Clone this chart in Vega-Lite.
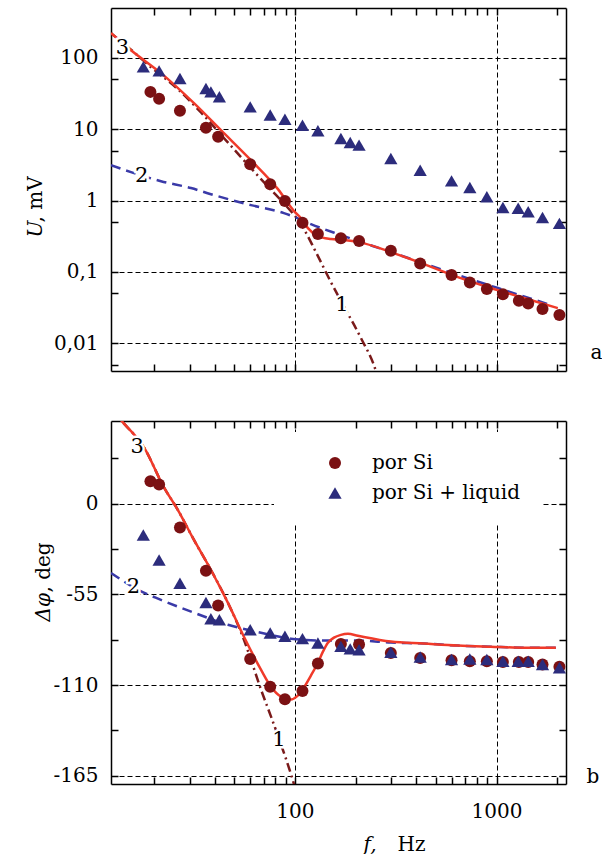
{
  "$schema": "https://vega.github.io/schema/vega-lite/v6.json",
  "background": "white",
  "padding": {"left": 25, "top": 7, "right": 0, "bottom": 0},
  "autosize": {"type": "pad"},
  "config": {
    "view": {"stroke": null},
    "font": "DejaVu Serif",
    "axis": {"labelFont": "DejaVu Serif", "labelFontSize": 20, "labelColor": "black", "titleFont": "DejaVu Serif", "titleFontSize": 20, "titleFontWeight": "normal", "titleColor": "black", "domainColor": "black", "domainWidth": 1.5, "tickColor": "black", "tickWidth": 1.5, "tickSize": -7, "labelOverlap": false, "labelFlush": false, "labelBound": false, "grid": false},
    "legend": {"labelFont": "DejaVu Serif"},
    "text": {"font": "DejaVu Serif"}
  },
  "datasets": {
    "pts": [
      {"f": 19.2, "U": 33.4, "phi": 13.5, "s": "por Si"},
      {"f": 21.2, "U": 26.7, "phi": 11.5, "s": "por Si"},
      {"f": 26.9, "U": 18.1, "phi": -14.5, "s": "por Si"},
      {"f": 36.2, "U": 10.5, "phi": -40.7, "s": "por Si"},
      {"f": 41.6, "U": 7.83, "phi": -61.8, "s": "por Si"},
      {"f": 60.0, "U": 3.24, "phi": -94.2, "s": "por Si"},
      {"f": 75.4, "U": 1.69, "phi": -111.1, "s": "por Si"},
      {"f": 89.2, "U": 0.99, "phi": -118.7, "s": "por Si"},
      {"f": 109, "U": 0.489, "phi": -113.7, "s": "por Si"},
      {"f": 130, "U": 0.34, "phi": -97.0, "s": "por Si"},
      {"f": 169, "U": 0.296, "phi": -85.1, "s": "por Si"},
      {"f": 208, "U": 0.271, "phi": -85.5, "s": "por Si"},
      {"f": 299, "U": 0.198, "phi": -90.6, "s": "por Si"},
      {"f": 418, "U": 0.132, "phi": -93.6, "s": "por Si"},
      {"f": 598, "U": 0.0905, "phi": -95.0, "s": "por Si"},
      {"f": 737, "U": 0.0715, "phi": -95.6, "s": "por Si"},
      {"f": 895, "U": 0.0576, "phi": -95.6, "s": "por Si"},
      {"f": 1075, "U": 0.0486, "phi": -96.0, "s": "por Si"},
      {"f": 1290, "U": 0.0395, "phi": -96.0, "s": "por Si"},
      {"f": 1435, "U": 0.0363, "phi": -96.0, "s": "por Si"},
      {"f": 1690, "U": 0.0302, "phi": -97.6, "s": "por Si"},
      {"f": 2050, "U": 0.0249, "phi": -99.0, "s": "por Si"},
      {"f": 17.7, "U": 74.8, "phi": -19.1, "s": "por Si + liquid"},
      {"f": 21.2, "U": 65.8, "phi": -34.2, "s": "por Si + liquid"},
      {"f": 26.9, "U": 51.4, "phi": -48.3, "s": "por Si + liquid"},
      {"f": 36.2, "U": 37.2, "phi": -60.0, "s": "por Si + liquid"},
      {"f": 38.3, "U": 33.4, "phi": -69.8, "s": "por Si + liquid"},
      {"f": 42.2, "U": 28.5, "phi": -70.5, "s": "por Si + liquid"},
      {"f": 60.0, "U": 20.6, "phi": -76.5, "s": "por Si + liquid"},
      {"f": 75.4, "U": 15.8, "phi": -78.5, "s": "por Si + liquid"},
      {"f": 89.2, "U": 13.8, "phi": -80.5, "s": "por Si + liquid"},
      {"f": 109, "U": 11.4, "phi": -81.9, "s": "por Si + liquid"},
      {"f": 130, "U": 9.5, "phi": -84.5, "s": "por Si + liquid"},
      {"f": 169, "U": 7.43, "phi": -86.6, "s": "por Si + liquid"},
      {"f": 188, "U": 6.53, "phi": -88.1, "s": "por Si + liquid"},
      {"f": 208, "U": 5.99, "phi": -88.6, "s": "por Si + liquid"},
      {"f": 299, "U": 3.9, "phi": -90.2, "s": "por Si + liquid"},
      {"f": 418, "U": 2.67, "phi": -93.0, "s": "por Si + liquid"},
      {"f": 598, "U": 1.89, "phi": -94.6, "s": "por Si + liquid"},
      {"f": 737, "U": 1.53, "phi": -94.2, "s": "por Si + liquid"},
      {"f": 895, "U": 1.13, "phi": -94.6, "s": "por Si + liquid"},
      {"f": 1075, "U": 0.8, "phi": -95.6, "s": "por Si + liquid"},
      {"f": 1280, "U": 0.78, "phi": -95.6, "s": "por Si + liquid"},
      {"f": 1435, "U": 0.7, "phi": -95.6, "s": "por Si + liquid"},
      {"f": 1690, "U": 0.58, "phi": -97.6, "s": "por Si + liquid"},
      {"f": 2050, "U": 0.48, "phi": -99.6, "s": "por Si + liquid"}
    ],
    "cTop": [
      {"c": 1, "f": 12.24, "U": 222}, {"c": 1, "f": 15.38, "U": 130}, {"c": 1, "f": 19.32, "U": 74}, {"c": 1, "f": 25.7, "U": 38.5}, {"c": 1, "f": 34.2, "U": 17.2}, {"c": 1, "f": 45.49, "U": 7.0}, {"c": 1, "f": 60.52, "U": 2.85}, {"c": 1, "f": 76.03, "U": 1.42}, {"c": 1, "f": 90.24, "U": 0.85}, {"c": 1, "f": 107.1, "U": 0.469}, {"c": 1, "f": 127.1, "U": 0.19}, {"c": 1, "f": 150.8, "U": 0.0722}, {"c": 1, "f": 179.0, "U": 0.0293}, {"c": 1, "f": 212.4, "U": 0.0119}, {"c": 1, "f": 252.1, "U": 0.00409}, {"c": 1, "f": 265, "U": 0.0025},
      {"c": 2, "f": 12.24, "U": 3.14}, {"c": 2, "f": 15.38, "U": 2.51}, {"c": 2, "f": 21.66, "U": 1.87}, {"c": 2, "f": 30.51, "U": 1.5}, {"c": 2, "f": 38.33, "U": 1.23}, {"c": 2, "f": 60.52, "U": 0.865}, {"c": 2, "f": 88.19, "U": 0.668}, {"c": 2, "f": 100, "U": 0.587}, {"c": 2, "f": 120, "U": 0.469}, {"c": 2, "f": 169.1, "U": 0.329}, {"c": 2, "f": 299.2, "U": 0.19}, {"c": 2, "f": 642.9, "U": 0.0906}, {"c": 2, "f": 1015, "U": 0.0596}, {"c": 2, "f": 1859, "U": 0.0344},
      {"c": 3, "f": 12.24, "U": 222}, {"c": 3, "f": 15.38, "U": 128}, {"c": 3, "f": 21.66, "U": 61.1}, {"c": 3, "f": 31.57, "U": 23.2}, {"c": 3, "f": 42.96, "U": 9.71}, {"c": 3, "f": 60.52, "U": 3.69}, {"c": 3, "f": 82.36, "U": 1.45}, {"c": 3, "f": 100, "U": 0.69}, {"c": 3, "f": 107.1, "U": 0.569}, {"c": 3, "f": 116, "U": 0.412}, {"c": 3, "f": 130, "U": 0.318}, {"c": 3, "f": 150.8, "U": 0.289}, {"c": 3, "f": 175, "U": 0.28}, {"c": 3, "f": 207.6, "U": 0.262}, {"c": 3, "f": 299.2, "U": 0.19}, {"c": 3, "f": 436, "U": 0.129}, {"c": 3, "f": 642.9, "U": 0.0849}, {"c": 3, "f": 937, "U": 0.0596}, {"c": 3, "f": 1366, "U": 0.0432}, {"c": 3, "f": 2013, "U": 0.0312}
    ],
    "cBot": [
      {"c": 1, "f": 12.24, "phi": 57.6}, {"c": 1, "f": 13.99, "phi": 49.3}, {"c": 1, "f": 17.84, "phi": 34.0}, {"c": 1, "f": 22.41, "phi": 9.8}, {"c": 1, "f": 26.29, "phi": -4.0}, {"c": 1, "f": 31.57, "phi": -22.1}, {"c": 1, "f": 38.33, "phi": -40.3}, {"c": 1, "f": 46.54, "phi": -60.2}, {"c": 1, "f": 55.86, "phi": -82.6}, {"c": 1, "f": 60.52, "phi": -94.7}, {"c": 1, "f": 67.84, "phi": -112.7}, {"c": 1, "f": 76.03, "phi": -129.0}, {"c": 1, "f": 85.22, "phi": -145.9}, {"c": 1, "f": 95.54, "phi": -164.0}, {"c": 1, "f": 101.2, "phi": -174.2},
      {"c": 2, "f": 12.24, "phi": -42.1}, {"c": 2, "f": 16.66, "phi": -52.3}, {"c": 2, "f": 21.66, "phi": -58.4}, {"c": 2, "f": 31.57, "phi": -66.2}, {"c": 2, "f": 46.54, "phi": -73.5}, {"c": 2, "f": 67.84, "phi": -78.3}, {"c": 2, "f": 95.54, "phi": -81.9}, {"c": 2, "f": 139.3, "phi": -83.1}, {"c": 2, "f": 205.3, "phi": -83.1}, {"c": 2, "f": 299.2, "phi": -84.3}, {"c": 2, "f": 436, "phi": -84.9}, {"c": 2, "f": 642.9, "phi": -86.1}, {"c": 2, "f": 937, "phi": -86.8}, {"c": 2, "f": 1366, "phi": -87.4}, {"c": 2, "f": 1968, "phi": -87.4},
      {"c": 3, "f": 12.24, "phi": 57.6}, {"c": 3, "f": 13.99, "phi": 49.3}, {"c": 3, "f": 17.84, "phi": 34.0}, {"c": 3, "f": 22.41, "phi": 9.8}, {"c": 3, "f": 26.29, "phi": -4.0}, {"c": 3, "f": 31.57, "phi": -22.1}, {"c": 3, "f": 38.33, "phi": -40.3}, {"c": 3, "f": 46.54, "phi": -60.2}, {"c": 3, "f": 55.86, "phi": -80.8}, {"c": 3, "f": 67.84, "phi": -100.7}, {"c": 3, "f": 76.03, "phi": -111.0}, {"c": 3, "f": 85.22, "phi": -117.0}, {"c": 3, "f": 95.54, "phi": -118.8}, {"c": 3, "f": 102.3, "phi": -116.9}, {"c": 3, "f": 110.8, "phi": -111.5}, {"c": 3, "f": 120, "phi": -104.3}, {"c": 3, "f": 130, "phi": -96.5}, {"c": 3, "f": 137.7, "phi": -89.8}, {"c": 3, "f": 145.7, "phi": -84.4}, {"c": 3, "f": 156.1, "phi": -81.3}, {"c": 3, "f": 169.1, "phi": -79.6}, {"c": 3, "f": 183.2, "phi": -79.0}, {"c": 3, "f": 205.3, "phi": -80.2}, {"c": 3, "f": 299.2, "phi": -83.7}, {"c": 3, "f": 436, "phi": -84.9}, {"c": 3, "f": 642.9, "phi": -86.1}, {"c": 3, "f": 937, "phi": -86.8}, {"c": 3, "f": 1366, "phi": -87.4}, {"c": 3, "f": 1968, "phi": -87.4}
    ],
    "lTop": [{"t": "3", "f": 13.96, "U": 139}, {"t": "2", "f": 17.4, "U": 2.2}, {"t": "1", "f": 171, "U": 0.0344}],
    "lBot": [{"t": "3", "f": 16.5, "phi": 34.5}, {"t": "2", "f": 15.8, "phi": -50.5}, {"t": "1", "f": 83.3, "phi": -143.5}]
  },
  "spacing": 45,
  "resolve": {"scale": {"color": "independent", "shape": "independent", "size": "independent"}, "legend": {"color": "independent", "shape": "independent", "size": "independent"}},
  "vconcat": [
    {
      "width": 455,
      "height": 363,
      "resolve": {"axis": {"x": "independent", "y": "independent"}},
      "layer": [
        {
          "data": {"name": "cTop"},
          "transform": [{"filter": "datum.c == 1"}],
          "mark": {"type": "line", "color": "#7a1a1a", "strokeWidth": 2.5, "strokeDash": [9, 4, 2, 4], "clip": true, "interpolate": "monotone"},
          "encoding": {
            "x": {"field": "f", "type": "quantitative", "scale": {"type": "log", "domain": [12.24, 2210], "nice": false},
              "axis": {"orient": "bottom", "values": [20, 30, 40, 50, 60, 70, 80, 90, 100, 200, 300, 400, 500, 600, 700, 800, 900, 1000, 2000], "grid": true, "gridColor": "black", "gridDash": [5, 3], "gridWidth": 1, "gridOpacity": {"condition": {"test": "datum.value == 100 || datum.value == 1000", "value": 1}, "value": 0}, "labels": false, "title": null}},
            "y": {"field": "U", "type": "quantitative", "scale": {"type": "log", "domain": [0.0041, 500], "nice": false},
              "axis": {"orient": "left", "values": [0.005, 0.01, 0.05, 0.1, 0.5, 1, 5, 10, 50, 100], "grid": true, "gridColor": "black", "gridDash": [5, 3], "gridWidth": 1, "gridOpacity": {"condition": {"test": "indexof([0.01, 0.1, 1, 10, 100], datum.value) >= 0", "value": 1}, "value": 0}, "labelExpr": "datum.value == 100 ? '100' : datum.value == 10 ? '10' : datum.value == 1 ? '1' : datum.value == 0.1 ? '0,1' : datum.value == 0.01 ? '0,01' : ''", "labelPadding": 20, "labelBaseline": "middle", "title": "U", "titleFontStyle": "italic", "titleAngle": 270, "titleAlign": "left", "titleBaseline": "alphabetic", "titleX": -70, "titleY": 229}}
          }
        },
        {
          "data": {"name": "cTop"},
          "transform": [{"filter": "datum.c == 2"}],
          "mark": {"type": "line", "color": "#3a3aa8", "strokeWidth": 2.5, "strokeDash": [10, 6], "clip": true, "interpolate": "monotone"},
          "encoding": {
            "x": {"field": "f", "type": "quantitative", "scale": {"type": "log", "domain": [12.24, 2210], "nice": false},
              "axis": {"orient": "top", "values": [20, 30, 40, 50, 60, 70, 80, 90, 100, 200, 300, 400, 500, 600, 700, 800, 900, 1000, 2000], "labels": false, "grid": false, "title": null}},
            "y": {"field": "U", "type": "quantitative", "scale": {"type": "log", "domain": [0.0041, 500], "nice": false},
              "axis": {"orient": "right", "values": [0.005, 0.01, 0.05, 0.1, 0.5, 1, 5, 10, 50, 100], "labels": false, "grid": false, "title": "a", "titleAngle": 0, "titleAlign": "left", "titleBaseline": "alphabetic", "titleX": 24, "titleY": 350}}
          }
        },
        {
          "data": {"name": "cTop"},
          "transform": [{"filter": "datum.c == 3"}],
          "mark": {"type": "line", "color": "#f03a2a", "strokeWidth": 2.5, "clip": true, "interpolate": "monotone"},
          "encoding": {
            "x": {"field": "f", "type": "quantitative", "scale": {"type": "log", "domain": [12.24, 2210], "nice": false}, "axis": null},
            "y": {"field": "U", "type": "quantitative", "scale": {"type": "log", "domain": [0.0041, 500], "nice": false},
              "axis": {"orient": "left", "domain": false, "ticks": false, "labels": false, "grid": false, "title": ", mV", "titleAngle": 270, "titleAlign": "left", "titleBaseline": "alphabetic", "titleX": -70, "titleY": 214}}
          }
        },
        {
          "data": {"name": "pts"},
          "mark": {"type": "point", "filled": true, "opacity": 1},
          "encoding": {
            "x": {"field": "f", "type": "quantitative", "scale": {"type": "log", "domain": [12.24, 2210], "nice": false}, "axis": null},
            "y": {"field": "U", "type": "quantitative", "scale": {"type": "log", "domain": [0.0041, 500], "nice": false}, "axis": null},
            "color": {"field": "s", "type": "nominal", "scale": {"domain": ["por Si", "por Si + liquid"], "range": ["#7b1113", "#2c2c7c"]}, "legend": null},
            "shape": {"field": "s", "type": "nominal", "scale": {"domain": ["por Si", "por Si + liquid"], "range": ["circle", "triangle-up"]}, "legend": null},
            "size": {"field": "s", "type": "nominal", "scale": {"domain": ["por Si", "por Si + liquid"], "range": [144, 175]}, "legend": null}
          }
        },
        {
          "data": {"name": "lTop"},
          "mark": {"type": "text", "fontSize": 21, "align": "center", "baseline": "middle", "stroke": "white", "strokeWidth": 5, "fill": "white"},
          "encoding": {
            "x": {"field": "f", "type": "quantitative", "scale": {"type": "log", "domain": [12.24, 2210], "nice": false}, "axis": null},
            "y": {"field": "U", "type": "quantitative", "scale": {"type": "log", "domain": [0.0041, 500], "nice": false}, "axis": null},
            "text": {"field": "t"}
          }
        },
        {
          "data": {"name": "lTop"},
          "mark": {"type": "text", "fontSize": 21, "align": "center", "baseline": "middle", "color": "black"},
          "encoding": {
            "x": {"field": "f", "type": "quantitative", "scale": {"type": "log", "domain": [12.24, 2210], "nice": false}, "axis": null},
            "y": {"field": "U", "type": "quantitative", "scale": {"type": "log", "domain": [0.0041, 500], "nice": false}, "axis": null},
            "text": {"field": "t"}
          }
        }
      ]
    },
    {
      "width": 455,
      "height": 363,
      "resolve": {"axis": {"x": "independent", "y": "independent"}},
      "layer": [
        {
          "data": {"name": "cBot"},
          "transform": [{"filter": "datum.c == 1"}],
          "mark": {"type": "line", "color": "#7a1a1a", "strokeWidth": 2.5, "strokeDash": [9, 4, 2, 4], "clip": true, "interpolate": "monotone"},
          "encoding": {
            "x": {"field": "f", "type": "quantitative", "scale": {"type": "log", "domain": [12.24, 2210], "nice": false},
              "axis": {"orient": "bottom", "values": [20, 30, 40, 50, 60, 70, 80, 90, 100, 200, 300, 400, 500, 600, 700, 800, 900, 1000, 2000], "grid": true, "gridColor": "black", "gridDash": [5, 3], "gridWidth": 1, "gridOpacity": {"condition": {"test": "datum.value == 100 || datum.value == 1000", "value": 1}, "value": 0}, "labelExpr": "datum.value == 100 ? '100' : datum.value == 1000 ? '1000' : ''", "labelBaseline": "alphabetic", "labelPadding": 40, "title": "f,", "titleFontStyle": "italic", "titleAngle": 0, "titleAlign": "left", "titleBaseline": "alphabetic", "titleX": 252, "titleY": 66}},
            "y": {"field": "phi", "type": "quantitative", "scale": {"type": "linear", "domain": [-170, 50], "nice": false, "zero": false},
              "axis": {"orient": "left", "values": [-165, -137.5, -110, -82.5, -55, -27.5, 0, 27.5], "grid": true, "gridColor": "black", "gridDash": [5, 3], "gridWidth": 1, "gridOpacity": {"condition": {"test": "datum.value % 55 == 0", "value": 1}, "value": 0}, "labelExpr": "datum.value == 0 ? '0' : datum.value % 55 == 0 ? '-' + abs(datum.value) : ''", "labelPadding": 20, "labelBaseline": "middle", "title": "Δφ", "titleFontStyle": "italic", "titleAngle": 270, "titleAlign": "left", "titleBaseline": "alphabetic", "titleX": -62, "titleY": 200}}
          }
        },
        {
          "data": {"name": "cBot"},
          "transform": [{"filter": "datum.c == 2"}],
          "mark": {"type": "line", "color": "#3a3aa8", "strokeWidth": 2.5, "strokeDash": [10, 6], "clip": true, "interpolate": "monotone"},
          "encoding": {
            "x": {"field": "f", "type": "quantitative", "scale": {"type": "log", "domain": [12.24, 2210], "nice": false},
              "axis": {"orient": "top", "values": [20, 30, 40, 50, 60, 70, 80, 90, 100, 200, 300, 400, 500, 600, 700, 800, 900, 1000, 2000], "labels": false, "grid": false, "title": null}},
            "y": {"field": "phi", "type": "quantitative", "scale": {"type": "linear", "domain": [-170, 50], "nice": false, "zero": false},
              "axis": {"orient": "right", "values": [-165, -137.5, -110, -82.5, -55, -27.5, 0, 27.5], "labels": false, "grid": false, "title": "b", "titleAngle": 0, "titleAlign": "left", "titleBaseline": "alphabetic", "titleX": 20, "titleY": 361}}
          }
        },
        {
          "data": {"name": "cBot"},
          "transform": [{"filter": "datum.c == 3"}],
          "mark": {"type": "line", "color": "#f03a2a", "strokeWidth": 2.5, "clip": true, "interpolate": "monotone"},
          "encoding": {
            "x": {"field": "f", "type": "quantitative", "scale": {"type": "log", "domain": [12.24, 2210], "nice": false},
              "axis": {"orient": "bottom", "domain": false, "ticks": false, "labels": false, "grid": false, "title": "Hz", "titleAngle": 0, "titleAlign": "left", "titleBaseline": "alphabetic", "titleX": 286, "titleY": 66}},
            "y": {"field": "phi", "type": "quantitative", "scale": {"type": "linear", "domain": [-170, 50], "nice": false, "zero": false},
              "axis": {"orient": "left", "domain": false, "ticks": false, "labels": false, "grid": false, "title": ", deg", "titleAngle": 270, "titleAlign": "left", "titleBaseline": "alphabetic", "titleX": -62, "titleY": 171}}
          }
        },
        {
          "data": {"name": "pts"},
          "mark": {"type": "point", "filled": true, "opacity": 1},
          "encoding": {
            "x": {"field": "f", "type": "quantitative", "scale": {"type": "log", "domain": [12.24, 2210], "nice": false}, "axis": null},
            "y": {"field": "phi", "type": "quantitative", "scale": {"type": "linear", "domain": [-170, 50], "nice": false, "zero": false}, "axis": null},
            "color": {"field": "s", "type": "nominal", "scale": {"domain": ["por Si", "por Si + liquid"], "range": ["#7b1113", "#2c2c7c"]},
              "legend": {"orient": "none", "legendX": 163, "legendY": 11, "title": null, "fillColor": "white", "padding": 21, "symbolOffset": 30, "labelOffset": 27, "rowPadding": 10, "labelFontSize": 20, "labelColor": "black", "symbolSize": 144, "symbolOpacity": 1, "symbolStrokeWidth": 0}},
            "shape": {"field": "s", "type": "nominal", "scale": {"domain": ["por Si", "por Si + liquid"], "range": ["circle", "triangle-up"]},
              "legend": {"orient": "none", "legendX": 163, "legendY": 11, "title": null, "fillColor": "white", "padding": 21, "symbolOffset": 30, "labelOffset": 27, "rowPadding": 10, "labelFontSize": 20, "labelColor": "black", "symbolSize": 144, "symbolOpacity": 1, "symbolStrokeWidth": 0}},
            "size": {"field": "s", "type": "nominal", "scale": {"domain": ["por Si", "por Si + liquid"], "range": [144, 175]}, "legend": null}
          }
        },
        {
          "data": {"name": "lBot"},
          "mark": {"type": "text", "fontSize": 21, "align": "center", "baseline": "middle", "stroke": "white", "strokeWidth": 5, "fill": "white"},
          "encoding": {
            "x": {"field": "f", "type": "quantitative", "scale": {"type": "log", "domain": [12.24, 2210], "nice": false}, "axis": null},
            "y": {"field": "phi", "type": "quantitative", "scale": {"type": "linear", "domain": [-170, 50], "nice": false, "zero": false}, "axis": null},
            "text": {"field": "t"}
          }
        },
        {
          "data": {"name": "lBot"},
          "mark": {"type": "text", "fontSize": 21, "align": "center", "baseline": "middle", "color": "black"},
          "encoding": {
            "x": {"field": "f", "type": "quantitative", "scale": {"type": "log", "domain": [12.24, 2210], "nice": false}, "axis": null},
            "y": {"field": "phi", "type": "quantitative", "scale": {"type": "linear", "domain": [-170, 50], "nice": false, "zero": false}, "axis": null},
            "text": {"field": "t"}
          }
        }
      ]
    }
  ]
}
